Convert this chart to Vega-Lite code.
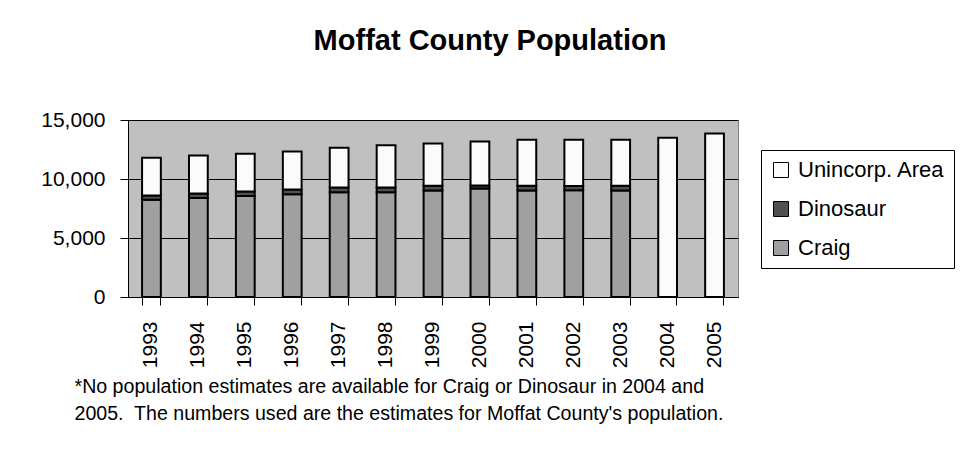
{
  "$schema": "https://vega.github.io/schema/vega-lite/v6.json",
  "autosize": "none",
  "width": 610,
  "height": 177,
  "padding": {"left": 128, "top": 120, "right": 237, "bottom": 173},
  "background": "white",
  "title": {
    "text": "Moffat County Population",
    "font": "Liberation Sans",
    "fontSize": 29,
    "fontWeight": "bold",
    "color": "black",
    "anchor": "middle",
    "frame": "group",
    "dx": 57,
    "offset": 53
  },
  "data": {
    "values": [
      {"year": "1993", "area": "Craig", "pop": 8250, "ord": 1},
      {"year": "1993", "area": "Dinosaur", "pop": 350, "ord": 2},
      {"year": "1993", "area": "Unincorp. Area", "pop": 3200, "ord": 3},
      {"year": "1994", "area": "Craig", "pop": 8400, "ord": 1},
      {"year": "1994", "area": "Dinosaur", "pop": 380, "ord": 2},
      {"year": "1994", "area": "Unincorp. Area", "pop": 3220, "ord": 3},
      {"year": "1995", "area": "Craig", "pop": 8550, "ord": 1},
      {"year": "1995", "area": "Dinosaur", "pop": 400, "ord": 2},
      {"year": "1995", "area": "Unincorp. Area", "pop": 3200, "ord": 3},
      {"year": "1996", "area": "Craig", "pop": 8700, "ord": 1},
      {"year": "1996", "area": "Dinosaur", "pop": 400, "ord": 2},
      {"year": "1996", "area": "Unincorp. Area", "pop": 3220, "ord": 3},
      {"year": "1997", "area": "Craig", "pop": 8880, "ord": 1},
      {"year": "1997", "area": "Dinosaur", "pop": 400, "ord": 2},
      {"year": "1997", "area": "Unincorp. Area", "pop": 3370, "ord": 3},
      {"year": "1998", "area": "Craig", "pop": 8880, "ord": 1},
      {"year": "1998", "area": "Dinosaur", "pop": 400, "ord": 2},
      {"year": "1998", "area": "Unincorp. Area", "pop": 3570, "ord": 3},
      {"year": "1999", "area": "Craig", "pop": 9020, "ord": 1},
      {"year": "1999", "area": "Dinosaur", "pop": 400, "ord": 2},
      {"year": "1999", "area": "Unincorp. Area", "pop": 3580, "ord": 3},
      {"year": "2000", "area": "Craig", "pop": 9200, "ord": 1},
      {"year": "2000", "area": "Dinosaur", "pop": 250, "ord": 2},
      {"year": "2000", "area": "Unincorp. Area", "pop": 3730, "ord": 3},
      {"year": "2001", "area": "Craig", "pop": 9020, "ord": 1},
      {"year": "2001", "area": "Dinosaur", "pop": 400, "ord": 2},
      {"year": "2001", "area": "Unincorp. Area", "pop": 3910, "ord": 3},
      {"year": "2002", "area": "Craig", "pop": 9050, "ord": 1},
      {"year": "2002", "area": "Dinosaur", "pop": 350, "ord": 2},
      {"year": "2002", "area": "Unincorp. Area", "pop": 3930, "ord": 3},
      {"year": "2003", "area": "Craig", "pop": 9020, "ord": 1},
      {"year": "2003", "area": "Dinosaur", "pop": 400, "ord": 2},
      {"year": "2003", "area": "Unincorp. Area", "pop": 3910, "ord": 3},
      {"year": "2004", "area": "Unincorp. Area", "pop": 13500, "ord": 3},
      {"year": "2005", "area": "Unincorp. Area", "pop": 13850, "ord": 3}
    ]
  },
  "mark": {"type": "bar", "stroke": "black", "strokeWidth": 2},
  "encoding": {
    "x": {
      "field": "year",
      "type": "ordinal",
      "scale": {"paddingInner": 0.6, "paddingOuter": 0.3},
      "axis": {
        "title": ["*No population estimates are available for Craig or Dinosaur in 2004 and", "2005.\u00a0 The numbers used are the estimates for Moffat County's population."],
        "titleFont": "Liberation Sans",
        "titleFontSize": 19.6,
        "titleFontWeight": "normal",
        "titleColor": "black",
        "titleAnchor": "start",
        "titleAlign": "left",
        "titleBaseline": "alphabetic",
        "titleX": -54,
        "titleY": 95,
        "titleLineHeight": 27,
        "labelAngle": -90,
        "labelAlign": "right",
        "labelBaseline": "middle",
        "labelFont": "Liberation Sans",
        "labelFontSize": 21,
        "labelColor": "black",
        "labelPadding": 16,
        "bandPosition": 1,
        "tickExtra": true,
        "tickSize": 8,
        "tickColor": "black",
        "domainColor": "black",
        "grid": false
      }
    },
    "y": {
      "field": "pop",
      "type": "quantitative",
      "aggregate": "sum",
      "stack": "zero",
      "scale": {"domain": [0, 15000], "nice": false},
      "axis": {
        "title": null,
        "values": [0, 5000, 10000, 15000],
        "format": ",d",
        "labelFont": "Liberation Sans",
        "labelFontSize": 21,
        "labelColor": "black",
        "labelPadding": 15,
        "tickSize": 8,
        "tickColor": "black",
        "domainColor": "black",
        "gridColor": "black",
        "gridOpacity": 1,
        "gridWidth": 1
      }
    },
    "color": {
      "field": "area",
      "type": "nominal",
      "scale": {"domain": ["Unincorp. Area", "Dinosaur", "Craig"], "range": ["#FBFBFB", "#505050", "#A0A0A0"]},
      "legend": {
        "title": null,
        "orient": "none",
        "legendX": 633,
        "legendY": 30,
        "fillColor": "white",
        "strokeColor": "black",
        "padding": 9,
        "symbolType": "square",
        "symbolSize": 225,
        "symbolStrokeColor": "black",
        "symbolStrokeWidth": 1,
        "labelFont": "Liberation Sans",
        "labelFontSize": 22,
        "labelColor": "black",
        "labelOffset": 6,
        "rowPadding": 17,
        "labelLimit": 300
      }
    },
    "order": {"field": "ord", "type": "quantitative"}
  },
  "config": {
    "view": {"fill": "#C0C0C0", "stroke": "#808080", "strokeWidth": 1}
  }
}
